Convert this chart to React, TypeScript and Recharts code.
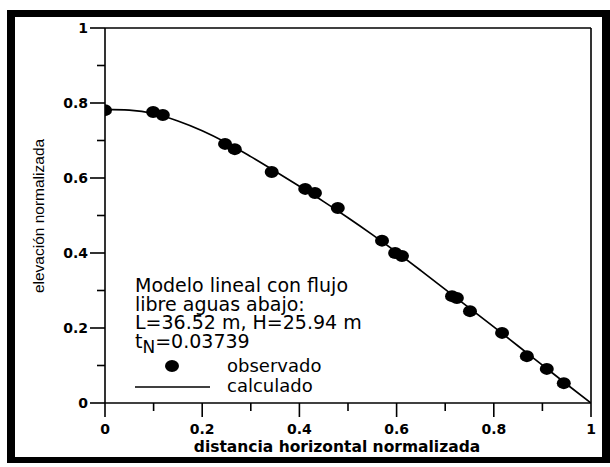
import React from 'react';
import {
  ComposedChart,
  Line,
  Scatter,
  XAxis,
  YAxis,
  ReferenceLine,
  Customized,
} from 'recharts';

// observed points (normalized horizontal distance, normalized elevation)
const obsX = [0, 0.099, 0.119, 0.247, 0.267, 0.343, 0.412, 0.432, 0.479, 0.57, 0.597, 0.611, 0.714, 0.724, 0.751, 0.817, 0.868, 0.909, 0.944];
const obsY = [0.781, 0.776, 0.768, 0.691, 0.677, 0.616, 0.571, 0.56, 0.52, 0.433, 0.4, 0.392, 0.285, 0.28, 0.245, 0.187, 0.125, 0.091, 0.053];

// calculated curve
const calcX = [0, 0.05, 0.1, 0.15, 0.2, 0.25, 0.3, 0.35, 0.4, 0.45, 0.5, 0.55, 0.6, 0.65, 0.7, 0.75, 0.8, 0.85, 0.9, 0.95, 1];
const calcY = [0.783, 0.781, 0.772, 0.752, 0.726, 0.694, 0.657, 0.618, 0.578, 0.537, 0.494, 0.449, 0.402, 0.353, 0.303, 0.253, 0.203, 0.152, 0.101, 0.05, 0];

const axisTicks = [0, 0.1, 0.2, 0.3, 0.4, 0.5, 0.6, 0.7, 0.8, 0.9, 1];

const annotationLines = ['Modelo lineal con flujo', 'libre aguas abajo:', 'L=36.52 m, H=25.94 m'];
const tNLabel = { base: 't', sub: 'N', rest: '=0.03739' };
const seriesNames = { observed: 'observado', calculated: 'calculado' };
const xLabel = 'distancia horizontal normalizada';
const yLabel = 'elevación normalizada';

const obsData = obsX.map((x, i) => ({ x, y: obsY[i] }));
const calcData = calcX.map((x, i) => ({ x, y: calcY[i] }));

const isMajor = (v: number) => Math.round(v * 10) % 2 === 0;
const fmt = (v: number) => (v === 0 ? '0' : v === 1 ? '1' : String(Math.round(v * 10) / 10));

const tickFont = { fontFamily: 'DejaVu Sans', fontWeight: 'bold' as const, fontSize: 14 };

const XTick = (props: any) => {
  const { x, y, payload } = props;
  const major = isMajor(payload.value);
  return (
    <g>
      <line x1={x} y1={y} x2={x} y2={y + (major ? 14 : 8)} stroke="#000" strokeWidth={1.6} />
      {major && (
        <text x={x} y={y + 31} textAnchor="middle" fill="#000" {...tickFont}>
          {fmt(payload.value)}
        </text>
      )}
    </g>
  );
};

const YTick = (props: any) => {
  const { x, y, payload } = props;
  const major = isMajor(payload.value);
  return (
    <g>
      <line x1={x} y1={y} x2={x - (major ? 15 : 8)} y2={y} stroke="#000" strokeWidth={1.6} />
      {major && (
        <text x={x - 17} y={y + 5} textAnchor="end" fill="#000" {...tickFont}>
          {fmt(payload.value)}
        </text>
      )}
    </g>
  );
};

const Dot = (props: any) => {
  const { cx, cy } = props;
  return <ellipse cx={cx} cy={cy} rx={7} ry={6} fill="#000" />;
};

const Decor = () => {
  const txt = { fontFamily: 'DejaVu Sans', fontSize: 19, fill: '#000' };
  const leg = { fontFamily: 'DejaVu Sans', fontSize: 18, fill: '#000' };
  return (
    <g>
      {annotationLines.map((t, i) => (
        <text key={t} x={135} y={292 + i * 18.5} {...txt}>
          {t}
        </text>
      ))}
      <text x={135} y={347.5} {...txt}>
        {tNLabel.base}
        <tspan dy={5} fontSize={17}>{tNLabel.sub}</tspan>
        <tspan dy={-5}>{tNLabel.rest}</tspan>
      </text>
      <ellipse cx={172} cy={366} rx={7} ry={6} fill="#000" />
      <text x={227} y={372} {...leg}>{seriesNames.observed}</text>
      <line x1={135} y1={387} x2={210} y2={387} stroke="#000" strokeWidth={1.6} />
      <text x={227} y={392} {...leg}>{seriesNames.calculated}</text>
      <text x={337} y={452} textAnchor="middle" fontFamily="DejaVu Sans" fontWeight="bold" fontSize={15.5} fill="#000">
        {xLabel}
      </text>
      <text
        x={38}
        y={216}
        textAnchor="middle"
        dominantBaseline="central"
        transform="rotate(-90 38 216)"
        fontFamily="Liberation Sans"
        fontSize={15.5}
        fill="#000"
      >
        {yLabel}
      </text>
    </g>
  );
};

export default function App() {
  return (
    <div style={{ position: 'absolute', left: 0, top: 0, width: 610, height: 467, background: '#fff' }}>
      <div
        style={{
          position: 'absolute',
          left: 7,
          top: 10,
          width: 603,
          height: 453,
          boxSizing: 'border-box',
          borderStyle: 'solid',
          borderColor: '#000',
          borderWidth: '7px 8px 6px 8px',
        }}
      />
      <div style={{ position: 'absolute', left: 0, top: 0 }}>
        <ComposedChart width={610} height={467} margin={{ top: 28, right: 19, bottom: 0, left: 0 }}>
          <XAxis
            type="number"
            dataKey="x"
            domain={[0, 1]}
            ticks={axisTicks}
            interval={0}
            tickSize={0}
            tickMargin={0}
            tickLine={false}
            tick={<XTick />}
            height={64}
            axisLine={{ stroke: '#000', strokeWidth: 1.6 }}
            allowDataOverflow
          />
          <YAxis
            type="number"
            dataKey="y"
            domain={[0, 1]}
            ticks={axisTicks}
            interval={0}
            tickSize={0}
            tickMargin={0}
            tickLine={false}
            tick={<YTick />}
            width={105}
            axisLine={{ stroke: '#000', strokeWidth: 1.6 }}
            allowDataOverflow
          />
          <ReferenceLine y={1} stroke="#000" strokeWidth={1.6} />
          <ReferenceLine x={1} stroke="#000" strokeWidth={1.6} />
          <Line
            data={calcData}
            dataKey="y"
            type="monotone"
            stroke="#000"
            strokeWidth={1.7}
            dot={false}
            isAnimationActive={false}
            name={seriesNames.calculated}
          />
          <Scatter
            data={obsData}
            dataKey="y"
            fill="#000"
            shape={<Dot />}
            isAnimationActive={false}
            name={seriesNames.observed}
          />
          <Customized component={<Decor />} />
        </ComposedChart>
      </div>
    </div>
  );
}
